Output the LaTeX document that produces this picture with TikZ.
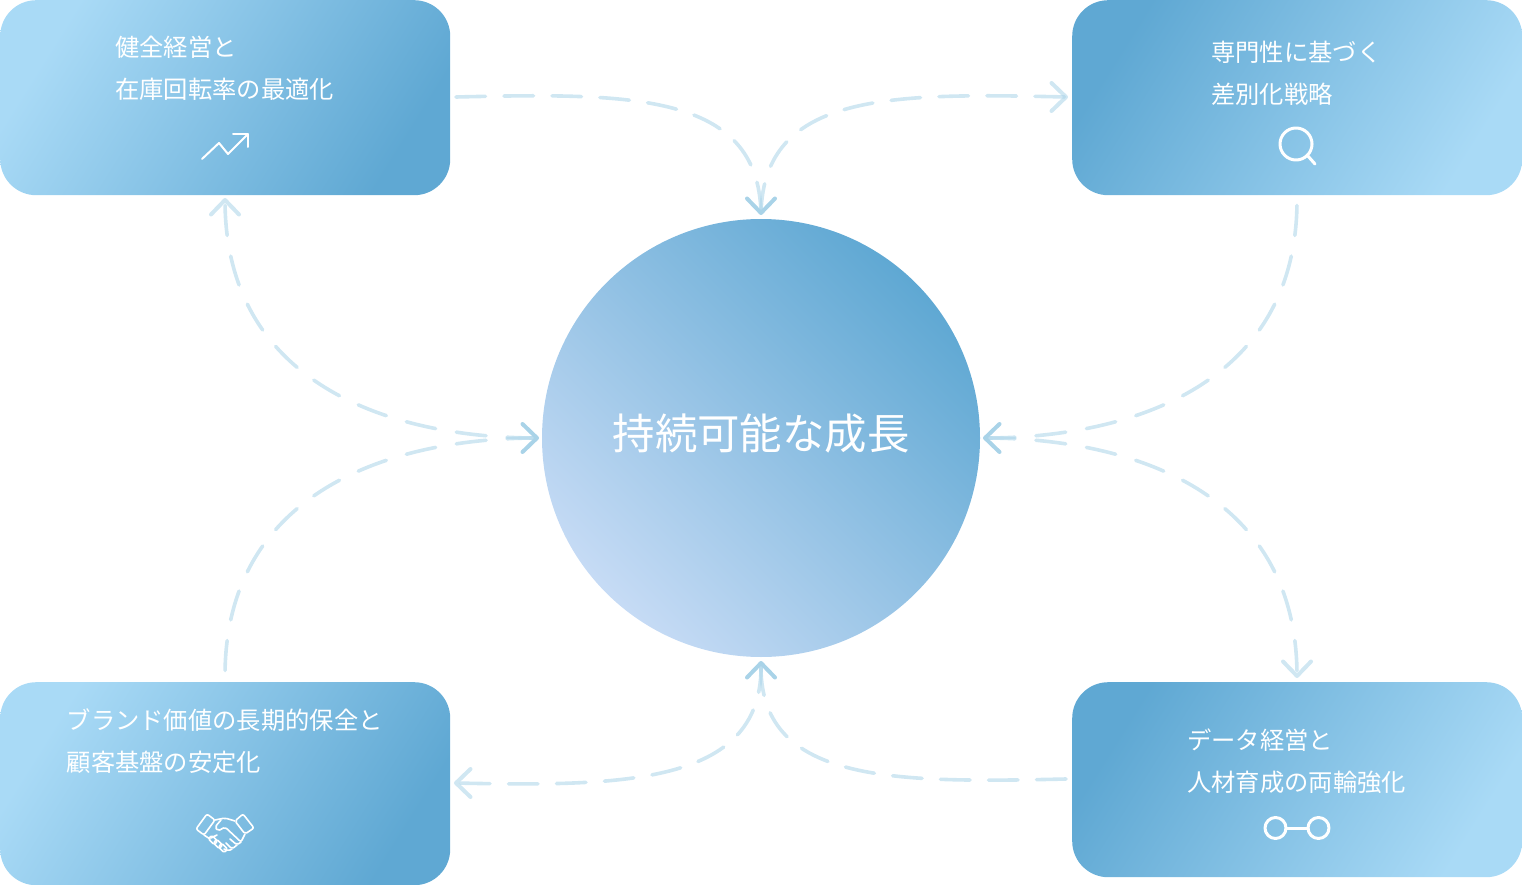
\documentclass[tikz,border=0pt]{standalone}
\usepackage{fontspec}
\setmainfont{Noto Sans CJK JP}
\definecolor{lightb}{HTML}{A9DAF6}
\definecolor{darkb}{HTML}{5FA8D3}
\definecolor{lightc}{HTML}{C6DBF5}
\definecolor{wire}{HTML}{A9D3E8}
\tikzset{
  card/.style={shade,inner sep=0pt,minimum width=450pt,rounded corners=36pt,anchor=north west},
  cardA/.style={card,top color=lightb,bottom color=darkb,shading angle=58},
  cardB/.style={card,top color=darkb,bottom color=lightb,shading angle=58},
  label/.style={text=white,font=\fontsize{24.3}{24.3}\selectfont,anchor=west,inner sep=0pt},
  wireline/.style={draw=wire,line width=3.6pt,line cap=round,opacity=.55,dash pattern=on 29.5pt off 18.5pt},
  wiredeep/.style={wireline,dash pattern=on 30pt off 21pt},
  barb/.style={draw=wire,line width=4pt,line cap=round,line join=round},
  barblight/.style={barb,opacity=.55},
  icon/.style={draw=white,line width=2pt,line cap=round,line join=round},
  iconb/.style={draw=white,line width=3pt,line cap=round,line join=round},
  hand/.style={draw=white,line width=1.6pt,line cap=round,line join=round},
}
\newcommand{\tipat}[3]{\draw[#3,shift={(#1)},rotate=#2] (-14.5,-14) -- (0,0) -- (-14.5,14);}
\begin{document}
\begin{tikzpicture}[x=1pt,y=-1pt]
\useasboundingbox (0,0) rectangle (1522,885);
\node[cardA,minimum height=195pt] (tl) at (0,0) {};
\node[cardB,minimum height=195pt] (tr) at (1072,0) {};
\node[cardA,minimum height=203pt] (bl) at (0,682) {};
\node[cardB,minimum height=195pt] (br) at (1072,682) {};
\node[circle,minimum size=438pt,inner sep=0pt,shade,top color=darkb,bottom color=lightc,shading angle=-45] (hub) at (761,438) {};
\node[text=white,font=\fontsize{42.4}{42.4}\selectfont,inner sep=0pt] (title) at (761,434) {持続可能な成長};
% labels
\node[label] (t1a) at (115,47) {健全経営と};
\node[label] (t1b) at (115,89) {在庫回転率の最適化};
\node[label] (t2a) at (1211,52) {専門性に基づく};
\node[label] (t2b) at (1211,94) {差別化戦略};
\node[label] (t3a) at (66.5,720) {ブランド価値の長期的保全と};
\node[label] (t3b) at (66.5,762) {顧客基盤の安定化};
\node[label] (t4a) at (1187,740) {データ経営と};
\node[label] (t4b) at (1187,782) {人材育成の両輪強化};
% connector anchors
\coordinate (hT) at (761,213);
\coordinate (hL) at (537,438);
\coordinate (hR) at (985,438);
\coordinate (hB) at (761,663);
\coordinate (eTL) at (456,97);
\coordinate (eTR) at (1066,97);
\coordinate (eLT) at (225,200);
\coordinate (eLB) at (225,676);
\coordinate (eRT) at (1297,200);
\coordinate (eRB) at (1297,676);
\coordinate (eBL) at (456,783);
\coordinate (eBR) at (1066,779);
% connectors
\draw[wireline] (eTL) .. controls (630,93) and (758,92) .. (hT);
\draw[wireline] (hT) .. controls (764,92) and (892,93) .. (eTR);
\draw[wiredeep] (hL) .. controls (400,438) and (225,390) .. (eLT);
\draw[wiredeep] (hL) .. controls (400,438) and (225,486) .. (eLB);
\draw[wiredeep] (hR) .. controls (1122,438) and (1297,390) .. (eRT);
\draw[wiredeep] (hR) .. controls (1122,438) and (1297,486) .. (eRB);
\draw[wireline] (hB) .. controls (764,783) and (630,787) .. (eBL);
\draw[wireline] (eBR) .. controls (892,783) and (758,783) .. (hB);
\tipat{hT}{-90}{barb}
\tipat{hL}{0}{barb}
\tipat{hR}{180}{barb}
\tipat{hB}{90}{barb}
\tipat{eTR}{0}{barblight}
\tipat{eLT}{90}{barblight}
\tipat{eRB}{-90}{barblight}
\tipat{eBL}{180}{barblight}
% trend icon
\draw[icon] (202,159) -- (219,143) -- (228,154) -- (248,134);
\draw[icon] (233,134) -- (248,134) -- (248,147);
% search icon
\draw[iconb] (1296,144) circle (16);
\draw[iconb] (1307,155) -- (1315,164);
% link icon
\draw[iconb] (1275.5,828) circle (10.5);
\draw[iconb] (1318.5,828) circle (10.5);
\draw[iconb] (1286,828) -- (1308,828);
% handshake icon
\begin{scope}[hand]
\draw[rounded corners=2pt] (196,829) -- (207,814) -- (215,820) -- (204,835) -- cycle;
\draw[rounded corners=2pt] (235,821) -- (243,814) -- (254,828) -- (245,834) -- cycle;
\draw[rounded corners=2pt] (215,820) -- (225,818) -- (235,821);
\draw[rounded corners=2pt] (221,820) -- (215,827) -- (218,831) -- (225,827) -- (241,842) -- (245,834);
\draw (204,835) -- (210,839);
\draw[rounded corners=2pt] (211,838) -- (217,835);
\draw[rounded corners=2pt] (241,842) -- (237,845) -- (230,839);
\draw[rounded corners=2pt] (237,845) -- (232,849) -- (226,843);
\draw[rounded corners=2pt] (232,849) -- (228,851) -- (224,849);
\foreach \fx/\fy in {213/840,218/844,223/848}
  \draw[rounded corners=1.5pt,shift={(\fx,\fy)},rotate=-45] (-4,-2.5) rectangle (4,2.5);
\end{scope}
\end{tikzpicture}
\end{document}
